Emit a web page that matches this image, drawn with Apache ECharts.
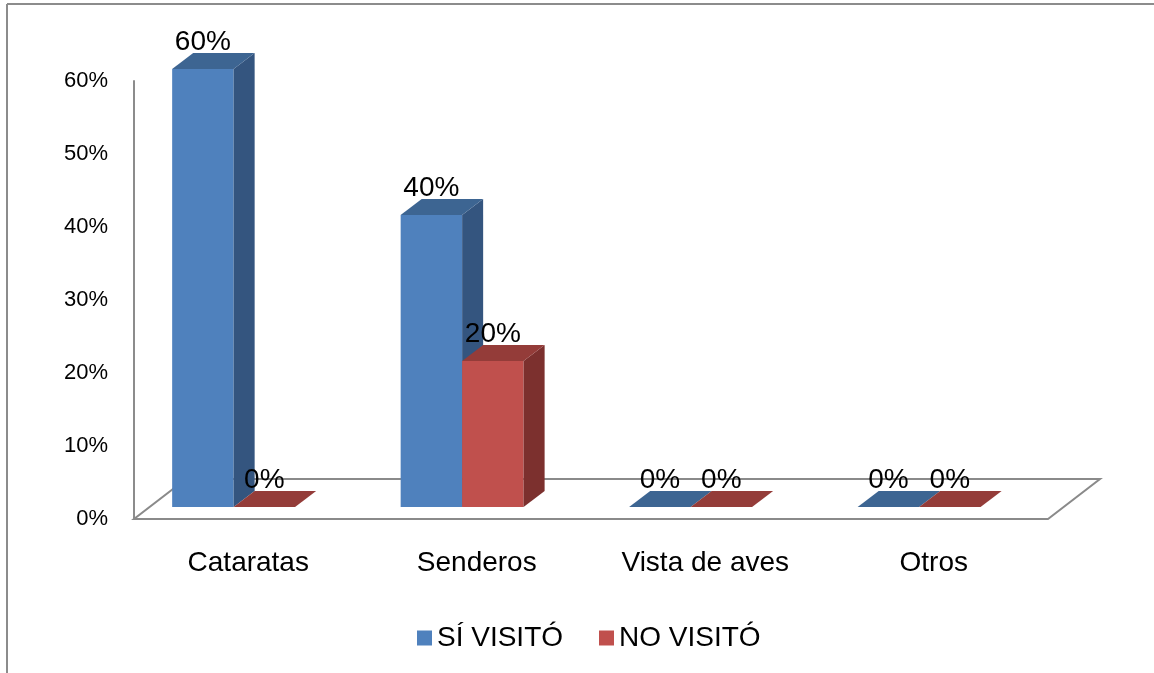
<!DOCTYPE html>
<html>
<head>
<meta charset="utf-8">
<script src="https://cdn.jsdelivr.net/npm/echarts@6/dist/echarts.min.js"></script>
<style>
  html, body { margin: 0; padding: 0; background: #fff; }
  #chart { width: 1154px; height: 673px; }
</style>
</head>
<body>
<div id="chart"></div>
<script>
// data
const categories = ['Cataratas', 'Senderos', 'Vista de aves', 'Otros']
const siVisito = [60, 40, 0, 0]
const noVisito = [0, 20, 0, 0]
const seriesNames = ['SÍ VISITÓ', 'NO VISITÓ']

const FONT = '"Liberation Sans", Arial, sans-serif'
const floorDepth = [52, -40] // floor receding offset
const barDepth = [0.092, -16] // dx as share of band, dy in px
const barLift = 12 // bars stand a bit back on the floor

const palette = [
  { front: '#4F81BD', top: '#3D6592', side: '#34557F' },
  { front: '#C0504D', top: '#943C39', side: '#7C302E' }
]

function barRenderer(slot) {
  const c = palette[slot]
  return function(params, api) {
    const cat = api.value(0)
    const val = api.value(1)
    const band = api.size([1, 0])[0]
    const base = api.coord([cat, 0])
    const top = api.coord([cat, val])
    const w = band * 0.269
    const x0 = base[0] - band * 0.333 + slot * w
    const x1 = x0 + w
    const yb = base[1] - barLift
    const yt = top[1] - barLift
    const dx = band * barDepth[0]
    const dy = barDepth[1]
    const children = []
    if (val > 0) {
      children.push({
        type: 'polygon',
        shape: { points: [[x0, yt], [x1, yt], [x1, yb], [x0, yb]] },
        style: { fill: c.front }
      })
      children.push({
        type: 'polygon',
        shape: { points: [[x1, yt], [x1 + dx, yt + dy], [x1 + dx, yb + dy], [x1, yb]] },
        style: { fill: c.side }
      })
    }
    children.push({
      type: 'polygon',
      shape: { points: [[x0, yt], [x1, yt], [x1 + dx, yt + dy], [x0 + dx, yt + dy]] },
      style: { fill: c.top }
    })
    children.push({
      type: 'text',
      style: {
        text: val + '%',
        x: (x0 + x1) / 2,
        y: yt - 27,
        align: 'center',
        verticalAlign: 'middle',
        font: '28px ' + FONT,
        fill: '#000'
      }
    })
    return { type: 'group', children: children }
  }
}

function floorRenderer(params, api) {
  const band = api.size([1, 0])[0]
  const left = api.coord([0, 0])
  const right = api.coord([categories.length - 1, 0])
  const xl = left[0] - band / 2
  const xr = right[0] + band / 2
  const y = left[1]
  return {
    type: 'polygon',
    shape: {
      points: [[xl, y], [xr, y], [xr + floorDepth[0], y + floorDepth[1]], [xl + floorDepth[0], y + floorDepth[1]]]
    },
    style: { fill: '#fff', stroke: '#8A8A8A', lineWidth: 2 }
  }
}

const chart = echarts.init(document.getElementById('chart'))
chart.setOption({
  animation: false,
  backgroundColor: '#fff',
  graphic: [
    { type: 'line', shape: { x1: 7, y1: 4, x2: 1154, y2: 4 }, style: { stroke: '#8C8C8C', lineWidth: 2 } },
    { type: 'line', shape: { x1: 7, y1: 4, x2: 7, y2: 673 }, style: { stroke: '#8C8C8C', lineWidth: 2 } }
  ],
  grid: { left: 134, right: 106, top: 81, bottom: 154 },
  legend: {
    data: seriesNames,
    left: 412,
    top: 619,
    icon: 'rect',
    itemWidth: 15,
    itemHeight: 15,
    itemGap: 36,
    textStyle: { fontSize: 28, fontFamily: FONT, color: '#000' }
  },
  xAxis: {
    type: 'category',
    data: categories,
    axisLine: { show: false },
    axisTick: { show: false },
    axisLabel: { fontSize: 28, fontFamily: FONT, color: '#000', margin: 30 }
  },
  yAxis: {
    type: 'value',
    min: 0,
    max: 60,
    interval: 10,
    axisLine: { show: true, lineStyle: { color: '#8C8C8C', width: 2 } },
    axisTick: { show: false },
    splitLine: { show: false },
    axisLabel: {
      fontSize: 22,
      fontFamily: FONT,
      color: '#000',
      margin: 26,
      formatter: '{value}%'
    }
  },
  series: [
    {
      name: 'floor',
      type: 'custom',
      silent: true,
      renderItem: floorRenderer,
      data: [[0, 0]],
      encode: { x: 0, y: 1 }
    },
    {
      name: seriesNames[0],
      type: 'custom',
      itemStyle: { color: palette[0].front },
      renderItem: barRenderer(0),
      data: siVisito.map((v, i) => [i, v]),
      encode: { x: 0, y: 1 }
    },
    {
      name: seriesNames[1],
      type: 'custom',
      itemStyle: { color: palette[1].front },
      renderItem: barRenderer(1),
      data: noVisito.map((v, i) => [i, v]),
      encode: { x: 0, y: 1 }
    }
  ]
})
</script>
</body>
</html>
